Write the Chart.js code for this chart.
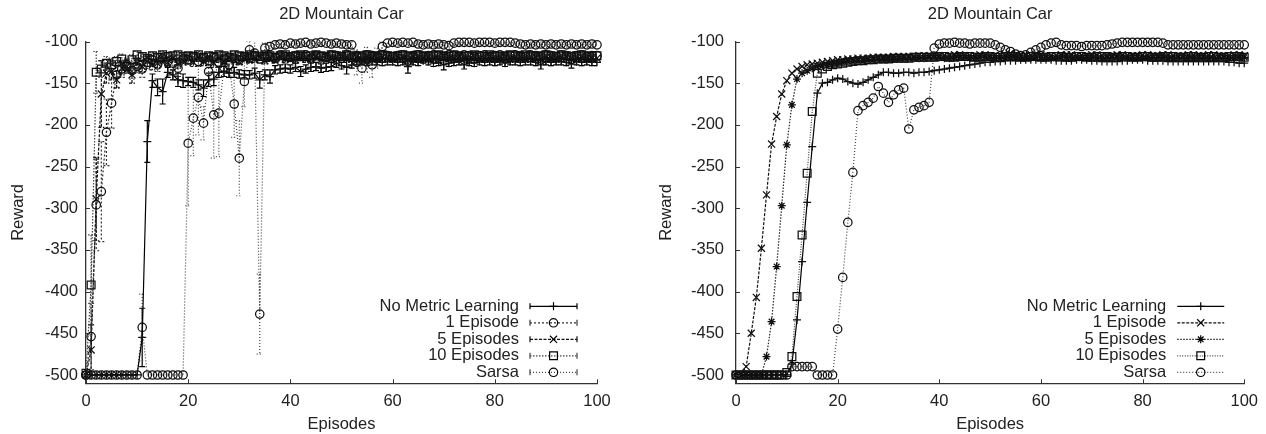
<!DOCTYPE html>
<html>
<head>
<meta charset="utf-8">
<title>2D Mountain Car</title>
<script src="https://cdn.jsdelivr.net/npm/chart.js@4.4.1/dist/chart.umd.min.js"></script>
<style>
    body { margin: 0; background: #fff; }
    #wrap { position: relative; width: 1266px; height: 434px; }
    canvas { position: absolute; top: 0; }
    #leftChart { left: 0; }
    #rightChart { left: 633px; }
</style>
</head>
<body>
<div id="wrap">
    <canvas id="leftChart" width="633" height="434"></canvas>
    <canvas id="rightChart" width="633" height="434"></canvas>
</div>
<script>
// Episodes (x values) and axis ticks
const episodes = [0,1,2,3,4,5,6,7,8,9,10,11,12,13,14,15,16,17,18,19,20,21,22,23,24,25,26,27,28,29,30,31,32,33,34,35,36,37,38,39,40,41,42,43,44,45,46,47,48,49,50,51,52,53,54,55,56,57,58,59,60,61,62,63,64,65,66,67,68,69,70,71,72,73,74,75,76,77,78,79,80,81,82,83,84,85,86,87,88,89,90,91,92,93,94,95,96,97,98,99,100];
const xTicks = [0, 20, 40, 60, 80, 100];
const yTicks = [-500, -450, -400, -350, -300, -250, -200, -150, -100];

// ---- Left panel: raw rewards, with error bars ----
const nmlLeft = [
    -500,-500,-500,-500,-500,-500,-500,-500,-500,-500,
    -500,-455,-220,-147,-155,-160,-137,-140,-146,-147,
    -148,-149,-152,-156,-146,-145,-137,-136,-138,-137,
    -139,-140,-140,-138,-146,-140,-142,-134,-133,-132,
    -133,-131,-136,-133,-131,-130,-132,-131,-130,-126,
    -129,-131,-128,-124,-124,-125,-124,-124,-125,-124,
    -124,-125,-124,-130,-124,-125,-123,-124,-126,-125,
    -128,-126,-125,-124,-128,-125,-126,-124,-125,-124,
    -125,-124,-126,-124,-124,-125,-124,-124,-125,-128,
    -124,-125,-124,-124,-125,-127,-124,-125,-124,-125,
    -125];
const nmlLeftErr = [
    0,0,0,0,0,0,0,0,0,0,
    0,35,25,8,10,15,6,6,8,8,
    5,6,6,10,8,8,6,6,5,6,
    5,5,5,6,10,6,8,5,5,5,
    5,5,6,5,5,5,5,5,5,5,
    4,8,4,4,4,4,4,4,4,4,
    4,4,4,8,4,4,3,4,4,4,
    6,4,4,4,5,4,4,4,4,4,
    4,4,4,4,4,4,4,4,4,5,
    4,4,4,4,4,5,4,4,4,4,
    4];

const ep1Left = [
    -500,-454,-296,-280,-209,-174,-140,-133,-128,-135,
    -130,-133,-125,-122,-128,-120,-124,-126,-132,-121,
    -122,-118,-124,-120,-123,-119,-125,-121,-128,-120,
    -122,-118,-120,-117,-121,-119,-118,-120,-116,-118,
    -119,-117,-118,-116,-120,-117,-118,-119,-116,-117,
    -118,-116,-119,-117,-118,-116,-117,-118,-116,-117,
    -118,-117,-116,-118,-117,-116,-118,-117,-116,-117,
    -118,-116,-117,-118,-116,-117,-118,-117,-116,-118,
    -117,-116,-118,-117,-116,-117,-118,-116,-117,-118,
    -116,-117,-118,-116,-117,-118,-117,-116,-118,-117,
    -117];
const ep1LeftErr = [
    0,40,55,60,40,30,15,10,8,10,
    8,10,8,6,8,6,6,8,10,6,
    6,5,6,5,6,5,6,5,6,5,
    5,4,5,4,5,4,4,5,4,4,
    4,4,4,4,4,4,4,4,4,4,
    4,4,4,4,4,4,4,4,4,4,
    4,4,4,4,4,4,4,4,4,4,
    4,4,4,4,4,4,4,4,4,4,
    4,4,4,4,4,4,4,4,4,4,
    4,4,4,4,4,4,4,4,4,4,
    4];

const ep5Left = [
    -500,-470,-289,-163,-138,-136,-146,-132,-130,-140,
    -126,-130,-124,-128,-126,-122,-125,-120,-127,-123,
    -121,-125,-119,-124,-122,-126,-120,-123,-119,-122,
    -124,-120,-122,-121,-119,-123,-120,-122,-118,-121,
    -120,-122,-119,-121,-120,-118,-122,-119,-121,-120,
    -119,-121,-120,-118,-122,-119,-120,-121,-119,-120,
    -121,-119,-120,-122,-118,-120,-121,-119,-120,-122,
    -119,-120,-121,-118,-120,-122,-119,-121,-120,-118,
    -121,-120,-119,-121,-120,-118,-121,-120,-119,-121,
    -120,-119,-121,-120,-118,-121,-120,-119,-121,-120,
    -120];
const ep5LeftErr = [
    0,30,50,40,12,10,10,8,8,10,
    6,6,6,6,5,5,5,5,5,5,
    5,5,5,5,5,5,5,5,5,5,
    4,4,4,4,4,4,4,4,4,4,
    4,4,4,4,4,4,4,4,4,4,
    4,4,4,4,4,4,4,4,4,4,
    4,4,4,4,4,4,4,4,4,4,
    4,4,4,4,4,4,4,4,4,4,
    4,4,4,4,4,4,4,4,4,4,
    4,4,4,4,4,4,4,4,4,4,
    4];

const ep10Left = [
    -498,-392,-137,-133,-126,-128,-124,-121,-130,-122,
    -116,-118,-120,-117,-119,-116,-118,-117,-116,-118,
    -117,-118,-116,-119,-117,-118,-116,-117,-119,-116,
    -117,-118,-116,-117,-118,-116,-117,-119,-117,-116,
    -118,-117,-116,-118,-117,-116,-117,-118,-116,-117,
    -118,-116,-117,-118,-117,-116,-118,-117,-116,-117,
    -118,-117,-116,-117,-118,-116,-117,-118,-117,-116,
    -117,-118,-116,-117,-118,-117,-116,-117,-118,-116,
    -117,-118,-117,-116,-117,-118,-116,-117,-118,-117,
    -116,-117,-118,-116,-117,-118,-117,-116,-117,-118,
    -117];
const ep10LeftErr = [
    0,60,25,10,8,8,6,6,8,6,
    4,4,4,4,4,4,4,4,4,4,
    4,4,4,4,4,4,4,4,4,4,
    4,4,4,4,4,4,4,4,4,4,
    4,4,4,4,4,4,4,4,4,4,
    4,4,4,4,4,4,4,4,4,4,
    4,4,4,4,4,4,4,4,4,4,
    4,4,4,4,4,4,4,4,4,4,
    4,4,4,4,4,4,4,4,4,4,
    4,4,4,4,4,4,4,4,4,4,
    4];

const sarsaLeft = [
    -500,-500,-500,-500,-500,-500,-500,-500,-500,-500,
    -500,-443,-500,-500,-500,-500,-500,-500,-500,-500,
    -222,-192,-167,-198,-136,-188,-186,-131,-128,-175,
    -240,-148,-110,-114,-427,-108,-106,-104,-103,-104,
    -102,-103,-102,-101,-103,-102,-101,-102,-103,-102,
    -103,-104,-104,-125,-132,-122,-128,-120,-106,-102,
    -101,-102,-101,-102,-101,-103,-104,-103,-104,-103,
    -104,-105,-102,-101,-101,-101,-102,-101,-101,-101,
    -102,-101,-101,-101,-102,-103,-104,-103,-104,-103,
    -104,-103,-104,-103,-104,-103,-104,-103,-104,-103,
    -104];
const sarsaLeftErr = [
    0,0,0,0,0,0,0,0,0,0,
    0,40,0,0,0,0,0,0,0,0,
    75,45,45,20,15,52,52,10,10,40,
    45,30,10,20,48,6,5,4,4,4,
    3,3,3,3,3,3,3,3,3,3,
    3,3,4,15,18,15,15,12,6,4,
    3,3,3,3,3,3,3,3,3,3,
    3,3,3,3,3,3,3,3,3,3,
    3,3,3,3,3,3,3,3,3,3,
    3,3,3,3,3,3,3,3,3,3,
    3];

// ---- Right panel: smoothed rewards ----
const nmlRight = [
    -500,-500,-500,-500,-500,-500,-500,-500,-500,-500,
    -500,-487,-434,-364,-293,-226,-162,-150,-149,-146,
    -144,-145,-148,-150,-151,-149,-146,-143,-140,-137,
    -137,-138,-138,-137,-137,-138,-137,-137,-136,-135,
    -134,-133,-132,-131,-130,-129,-128,-127,-126,-125,
    -125,-124,-124,-123,-123,-123,-122,-122,-122,-122,
    -122,-122,-122,-123,-123,-123,-123,-122,-122,-122,
    -123,-123,-124,-124,-124,-124,-123,-123,-122,-122,
    -122,-123,-123,-123,-123,-124,-124,-124,-124,-124,
    -124,-124,-124,-124,-124,-124,-124,-125,-125,-126,
    -126];
const ep1Right = [
    -500,-500,-490,-450,-407,-348,-284,-223,-190,-163,
    -147,-138,-133,-130,-128,-127,-126,-125,-124,-123,
    -122,-122,-121,-121,-120,-120,-120,-119,-119,-119,
    -119,-118,-118,-118,-118,-118,-117,-117,-117,-117,
    -117,-117,-117,-116,-116,-117,-117,-117,-116,-116,
    -117,-117,-117,-116,-116,-116,-117,-117,-117,-116,
    -116,-117,-117,-117,-116,-116,-116,-117,-117,-117,
    -116,-116,-117,-117,-117,-116,-116,-117,-117,-117,
    -116,-116,-117,-117,-116,-116,-117,-117,-117,-116,
    -116,-117,-117,-116,-116,-117,-117,-117,-116,-116,
    -117];
const ep5Right = [
    -500,-500,-500,-500,-500,-500,-478,-436,-370,-297,
    -224,-176,-145,-138,-135,-132,-130,-129,-128,-127,
    -126,-125,-124,-124,-123,-123,-122,-122,-121,-121,
    -121,-121,-120,-120,-120,-120,-120,-120,-119,-119,
    -119,-120,-120,-119,-119,-119,-120,-120,-119,-119,
    -119,-120,-120,-120,-119,-119,-119,-120,-120,-119,
    -119,-119,-120,-120,-119,-119,-120,-120,-120,-119,
    -119,-120,-120,-119,-119,-119,-120,-120,-119,-119,
    -120,-120,-119,-119,-119,-120,-120,-119,-119,-120,
    -120,-119,-119,-120,-120,-119,-119,-120,-120,-119,
    -119];
const ep10Right = [
    -500,-500,-500,-500,-500,-500,-500,-500,-500,-500,
    -497,-478,-406,-332,-258,-184,-138,-133,-130,-128,
    -127,-126,-125,-124,-123,-123,-122,-122,-121,-121,
    -121,-120,-120,-120,-120,-119,-119,-119,-119,-119,
    -118,-118,-119,-119,-118,-118,-118,-119,-119,-118,
    -118,-119,-119,-118,-118,-118,-119,-119,-118,-118,
    -119,-119,-118,-118,-118,-119,-119,-118,-118,-119,
    -119,-118,-118,-118,-119,-119,-118,-118,-119,-119,
    -118,-118,-119,-119,-118,-118,-118,-119,-119,-118,
    -118,-119,-119,-118,-118,-119,-119,-118,-118,-118,
    -119];
const sarsaRight = [
    -500,-500,-500,-500,-500,-500,-500,-500,-500,-500,
    -500,-490,-490,-490,-490,-490,-500,-500,-500,-500,
    -445,-383,-317,-257,-183,-177,-173,-168,-154,-162,
    -173,-164,-158,-156,-205,-182,-179,-177,-173,-108,
    -103,-102,-102,-101,-102,-102,-103,-102,-102,-102,
    -102,-104,-107,-110,-112,-115,-117,-116,-113,-110,
    -107,-104,-102,-101,-104,-105,-105,-105,-106,-105,
    -105,-105,-105,-104,-103,-102,-101,-101,-101,-101,
    -101,-101,-101,-101,-102,-104,-104,-104,-104,-104,
    -104,-104,-104,-104,-104,-104,-104,-104,-104,-104,
    -104];

// Shared look
const FONT = '"Liberation Sans", Arial, Helvetica, sans-serif';
const FONT_SIZE = 16.5;
const textColor = '#222';
const axisColor = '#333';

// Error bars (gnuplot yerrorlines style), clipped to the plot area
const errorBarPlugin = {
    id: 'errorBars',
    beforeDatasetsDraw(chart) {
        const { ctx, chartArea, scales: { x, y } } = chart;
        ctx.save();
        ctx.beginPath();
        ctx.rect(chartArea.left, chartArea.top, chartArea.right - chartArea.left, chartArea.bottom - chartArea.top);
        ctx.clip();
        chart.data.datasets.forEach(ds => {
            if (!ds.errors) return;
            ctx.strokeStyle = ds.borderColor;
            ctx.lineWidth = ds.borderWidth;
            ctx.setLineDash(ds.borderDash || []);
            ds.data.forEach((p, i) => {
                const e = ds.errors[i];
                if (!e) return;
                const px = x.getPixelForValue(p.x);
                const yTop = y.getPixelForValue(p.y + e);
                const yBot = y.getPixelForValue(p.y - e);
                ctx.beginPath();
                ctx.moveTo(px, yTop); ctx.lineTo(px, yBot);
                ctx.moveTo(px - 3, yTop); ctx.lineTo(px + 3, yTop);
                ctx.moveTo(px - 3, yBot); ctx.lineTo(px + 3, yBot);
                ctx.stroke();
            });
        });
        ctx.restore();
    }
};

// Small inward tick marks on both axes
const innerTickPlugin = {
    id: 'innerTicks',
    afterDraw(chart) {
        const { ctx, chartArea, scales: { x, y } } = chart;
        ctx.save();
        ctx.strokeStyle = axisColor;
        ctx.lineWidth = 1;
        ctx.beginPath();
        xTicks.forEach(v => {
            const px = Math.round(x.getPixelForValue(v)) + 0.5;
            ctx.moveTo(px, chartArea.bottom);
            ctx.lineTo(px, chartArea.bottom - 4);
        });
        yTicks.forEach(v => {
            const py = Math.round(y.getPixelForValue(v)) + 0.5;
            ctx.moveTo(chartArea.left, py);
            ctx.lineTo(chartArea.left + 4, py);
        });
        ctx.stroke();
        ctx.restore();
    }
};

// Key inside the plot, bottom right: text, then line sample with marker
const keyPlugin = {
    id: 'gnuKey',
    afterDraw(chart) {
        const { ctx, chartArea } = chart;
        const sets = chart.data.datasets;
        ctx.save();
        ctx.font = FONT_SIZE + 'px ' + FONT;
        ctx.textAlign = 'right';
        ctx.textBaseline = 'middle';
        sets.forEach((ds, i) => {
            const yRow = chartArea.bottom - 11 - (sets.length - 1 - i) * 16.5;
            const x0 = chartArea.right - 67, x1 = chartArea.right - 20;
            ctx.fillStyle = textColor;
            ctx.fillText(ds.label, chartArea.right - 78, yRow);
            ctx.strokeStyle = ds.borderColor;
            ctx.lineWidth = ds.borderWidth;
            ctx.setLineDash(ds.borderDash || []);
            ctx.beginPath();
            ctx.moveTo(x0, yRow); ctx.lineTo(x1, yRow);
            ctx.stroke();
            ctx.setLineDash([]);
            if (ds.errors) {
                ctx.beginPath();
                ctx.moveTo(x0, yRow - 3); ctx.lineTo(x0, yRow + 3);
                ctx.moveTo(x1, yRow - 3); ctx.lineTo(x1, yRow + 3);
                ctx.stroke();
            }
            ctx.strokeStyle = '#000';
            ctx.fillStyle = 'rgba(0,0,0,0)';
            Chart.helpers.drawPoint(ctx, {
                pointStyle: ds.pointStyle, radius: ds.pointRadius, rotation: 0, borderWidth: ds.pointBorderWidth
            }, (x0 + x1) / 2, yRow);
        });
        ctx.restore();
    }
};

function makeSeries(label, values, errors, marker, radius, dash, color) {
    return {
        label: label,
        data: episodes.map((ep, i) => ({ x: ep, y: values[i] })),
        errors: errors,
        borderColor: color,
        borderWidth: 1.2,
        borderDash: dash,
        pointStyle: marker,
        pointRadius: radius,
        pointHoverRadius: radius,
        pointBorderWidth: 1.25,
        pointBorderColor: '#111',
        pointBackgroundColor: 'rgba(0,0,0,0)',
        tension: 0,
        fill: false,
        clip: 8
    };
}

function makeChart(canvasId, datasets, axisWidth, padRight, tickPad, titlePad) {
    return new Chart(document.getElementById(canvasId), {
        type: 'line',
        data: { datasets: datasets },
        options: {
            responsive: false,
            animation: false,
            devicePixelRatio: 1,
            layout: { padding: { left: 0, right: padRight, top: 0, bottom: 0 } },
            plugins: {
                legend: { display: false },
                tooltip: { enabled: false },
                title: {
                    display: true,
                    text: '2D Mountain Car',
                    fullSize: false,
                    color: textColor,
                    font: { family: FONT, size: FONT_SIZE, weight: 'normal', lineHeight: 1.2 },
                    padding: { top: 5, bottom: 16.7 }
                }
            },
            scales: {
                x: {
                    type: 'linear',
                    min: 0,
                    max: 100,
                    afterBuildTicks: s => { s.ticks = xTicks.map(v => ({ value: v })); },
                    afterFit: s => { s.height = 50.7; },
                    grid: { drawOnChartArea: false, drawTicks: false },
                    border: { display: true, color: axisColor, width: 1.3 },
                    ticks: { color: textColor, padding: 8, maxRotation: 0, font: { family: FONT, size: FONT_SIZE } },
                    title: {
                        display: true, text: 'Episodes', color: textColor,
                        font: { family: FONT, size: FONT_SIZE }, padding: { top: 0, bottom: 0 }
                    }
                },
                y: {
                    type: 'linear',
                    min: -510,
                    max: -100,
                    afterBuildTicks: s => { s.ticks = yTicks.map(v => ({ value: v })); },
                    afterFit: s => { s.width = axisWidth; },
                    grid: { drawOnChartArea: false, drawTicks: false },
                    border: { display: true, color: axisColor, width: 1.3 },
                    ticks: { color: textColor, padding: tickPad, font: { family: FONT, size: FONT_SIZE } },
                    title: {
                        display: true, text: 'Reward', color: textColor,
                        font: { family: FONT, size: FONT_SIZE }, padding: { top: titlePad, bottom: 0 }
                    }
                }
            }
        },
        plugins: [errorBarPlugin, innerTickPlugin, keyPlugin]
    });
}

// Left: per-episode rewards with error bars
makeChart('leftChart', [
    makeSeries('No Metric Learning', nmlLeft, nmlLeftErr, 'cross', 4, [], '#000'),
    makeSeries('1 Episode', ep1Left, ep1LeftErr, 'circle', 4.2, [2, 2], '#333'),
    makeSeries('5 Episodes', ep5Left, ep5LeftErr, 'crossRot', 5, [3, 1.5], '#111'),
    makeSeries('10 Episodes', ep10Left, ep10LeftErr, 'rect', 5.5, [1.5, 1.5], '#444'),
    makeSeries('Sarsa', sarsaLeft, sarsaLeftErr, 'circle', 4.2, [1, 2], '#444')
], 86, 36, 8, 8.4);

// Right: smoothed rewards
makeChart('rightChart', [
    makeSeries('No Metric Learning', nmlRight, null, 'cross', 4, [], '#000'),
    makeSeries('1 Episode', ep1Right, null, 'crossRot', 5, [3, 1.5], '#111'),
    makeSeries('5 Episodes', ep5Right, null, 'star', 4, [1.5, 1.5], '#222'),
    makeSeries('10 Episodes', ep10Right, null, 'rect', 5.5, [1, 1.5], '#444'),
    makeSeries('Sarsa', sarsaRight, null, 'circle', 4.2, [1, 2], '#444')
], 103, 20, 12, 24);
</script>
</body>
</html>
